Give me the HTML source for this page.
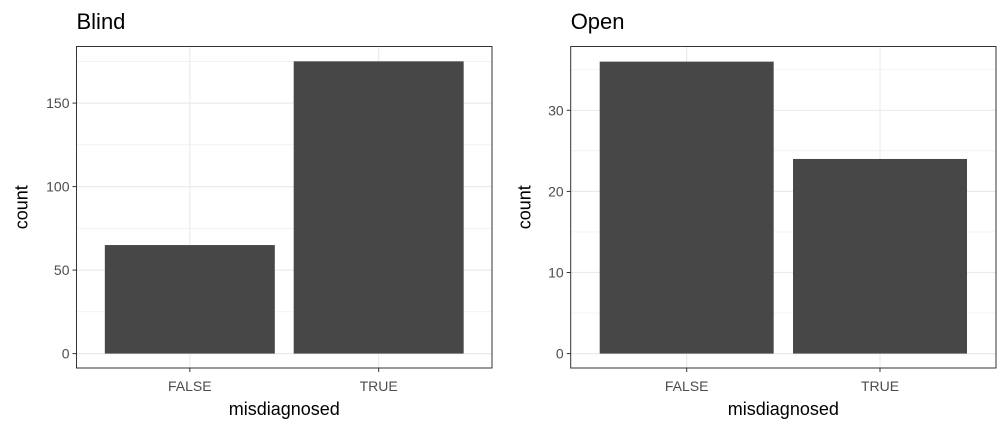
<!DOCTYPE html>
<html><head><meta charset="utf-8">
<style>
body{margin:0;background:#fff;}
svg{display:block;font-family:"Liberation Sans",Arial,sans-serif;}
</style></head>
<body>
<svg id="chart" width="1008" height="432"></svg>
<script>
const categories = ["FALSE","TRUE"];
const blindValues = [65,175];
const openValues = [36,24];
const blindTicks = [0,50,100,150];
const openTicks = [0,10,20,30];
const blindMinor = [25,75,125,175];
const openMinor = [5,15,25,35];

const NS="http://www.w3.org/2000/svg";
const svg=document.getElementById('chart');
function mk(tag,attrs,parent){const e=document.createElementNS(NS,tag);for(const k in attrs)e.setAttribute(k,attrs[k]);(parent||svg).appendChild(e);return e;}

function panel(title,vals,ticks,minor,x0,x1,pxPerUnit,name,ytOff){
  const y0=46.5,y1=368, zeroY=353.6;
  const g=mk('g',{});
  
  
  const band=(x1-x0)/2.2;
  const xs=i=>x0+(0.6+i)*band;
  const ys=v=>zeroY-v*pxPerUnit;
  for(const m of minor){const y=ys(m);if(y>y0&&y<y1){const l=mk('line',{x1:x0,x2:x1,y1:y,y2:y,stroke:'#ebebeb','stroke-width':0.6},g);}}
  for(const t of ticks){const y=ys(t);const l=mk('line',{x1:x0,x2:x1,y1:y,y2:y,stroke:'#ebebeb','stroke-width':1.2},g);}
  categories.forEach((c,i)=>{const l=mk('line',{x1:xs(i),x2:xs(i),y1:y0,y2:y1,stroke:'#ebebeb','stroke-width':1.2},g);});
  vals.forEach((v,i)=>{const w=0.9*band;const r=mk('rect',{x:xs(i)-w/2,y:ys(v),width:w,height:zeroY-ys(v),fill:'#474747'},g);});
  const b=mk('rect',{x:x0,y:y0,width:x1-x0,height:y1-y0,fill:'none',stroke:'#333','stroke-width':1},g);
  
  for(const t of ticks){const y=ys(t);mk('line',{x1:x0-4,x2:x0,y1:y,y2:y,stroke:'#333','stroke-width':1},g);const tx=mk('text',{x:x0-7,y:y+5,'text-anchor':'end','font-size':14,fill:'#4d4d4d'},g);tx.textContent=t;}
  categories.forEach((c,i)=>{mk('line',{x1:xs(i),x2:xs(i),y1:y1,y2:y1+4,stroke:'#333','stroke-width':1},g);const tx=mk('text',{x:xs(i),y:y1+23,'text-anchor':'middle','font-size':14,fill:'#4d4d4d'},g);tx.textContent=c;});
  const xt=mk('text',{x:(x0+x1)/2,y:415,'text-anchor':'middle','font-size':18,fill:'#000'},g);xt.textContent='misdiagnosed';
  
  const yt=mk('text',{x:0,y:0,'text-anchor':'middle','font-size':18,fill:'#000',transform:`translate(${x0-ytOff},${(y0+y1)/2}) rotate(-90)`},g);yt.textContent='count';
  
  const tt=mk('text',{x:x0,y:29,'font-size':22,fill:'#000'},g);tt.textContent=title;
  
}
panel('Blind',blindValues,blindTicks,blindMinor,76.5,492,1.670,'blind',49);
panel('Open',openValues,openTicks,openMinor,570.7,996,8.11,'open',40);
</script>
</body></html>
